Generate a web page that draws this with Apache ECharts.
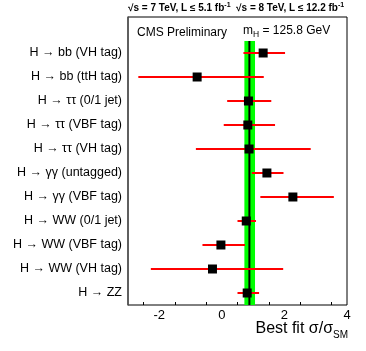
<!DOCTYPE html>
<html><head><meta charset="utf-8">
<script src="https://cdn.jsdelivr.net/npm/echarts@6/dist/echarts.min.js"></script>
<style>html,body{margin:0;padding:0;background:#fff}#c{width:366px;height:351px}</style>
</head><body><div id="c"></div>
<script>
// Categories top to bottom ('' = empty header row)
var categories = ['', 'H \u2192 bb (VH tag)', 'H \u2192 bb (ttH tag)', 'H \u2192 \u03c4\u03c4 (0/1 jet)', 'H \u2192 \u03c4\u03c4 (VBF tag)', 'H \u2192 \u03c4\u03c4 (VH tag)', 'H \u2192 \u03b3\u03b3 (untagged)', 'H \u2192 \u03b3\u03b3 (VBF tag)', 'H \u2192 WW (0/1 jet)', 'H \u2192 WW (VBF tag)', 'H \u2192 WW (VH tag)', 'H \u2192 ZZ'];
var bestFit = [1.32, -0.79, 0.85, 0.83, 0.87, 1.44, 2.27, 0.78, -0.03, -0.30, 0.81];
var errLow  = [0.69, -2.67, 0.17, 0.06, -0.83, 0.96, 1.23, 0.50, -0.62, -2.27, 0.50];
var errHigh = [2.02, 1.34, 1.58, 1.70, 2.84, 1.97, 3.58, 1.09, 0.74, 1.96, 1.19];
var combined = 0.88;
var combinedLow = 0.72;
var combinedHigh = 1.06;
var xTicks = [-3, 4];

var rows = categories.slice(1);
var FONT = 'Liberation Sans, Arial, sans-serif';

var chart = echarts.init(document.getElementById('c'));
chart.setOption({
  animation: false,
  title: {
    text: '{a|\u221as = 7 TeV, L \u2264 5.1 fb}{s|-1}{a|  \u221as = 8 TeV, L \u2264 12.2 fb}{s|-1}',
    left: 128, top: 2, padding: 0,
    textStyle: {
      rich: {
        a: {fontFamily: FONT, fontSize: 10, color: '#000'},
        s: {fontFamily: FONT, fontSize: 7, color: '#000', verticalAlign: 'bottom', padding: [0,0,5,0]}
      }
    }
  },
  grid: {left: 128, right: 19, top: 17, bottom: 46, containLabel: false, outerBoundsMode: 'none',
         show: true, borderColor: '#000', borderWidth: 1},
  xAxis: {
    type: 'value', min: xTicks[0], max: xTicks[1], interval: 1,
    axisLine: {lineStyle: {color: '#000', width: 1.5}},
    axisTick: {inside: true, length: 5, lineStyle: {color: '#000'}},
    minorTick: {show: true, splitNumber: 2, length: 3, lineStyle: {color: '#000'}},
    splitLine: {show: false},
    axisLabel: {
      fontFamily: FONT, fontSize: 13, color: '#000', margin: 4,
      formatter: function (v) { return (v % 2 === 0) ? String(v) : ''; }
    }
  },
  yAxis: {
    type: 'category', data: categories, inverse: true,
    axisLine: {onZero: false, lineStyle: {color: '#555', width: 1.5}},
    axisTick: {show: false},
    splitLine: {show: false},
    axisLabel: {fontFamily: FONT, fontSize: 12.5, color: '#000', margin: 6}
  },
  graphic: [
    {type: 'text', left: 137, top: 27, style: {text: 'CMS Preliminary', font: '12px ' + FONT, fill: '#000'}},
    {type: 'text', left: 243, top: 25, style: {
      text: '{a|m}{s|H}{a| = 125.8 GeV}',
      rich: {
        a: {fontFamily: FONT, fontSize: 12, color: '#000'},
        s: {fontFamily: FONT, fontSize: 8.5, color: '#000', verticalAlign: 'top', padding: [8,0,0,0]}
      }
    }},
    {type: 'text', right: 18, top: 321, style: {
      text: '{a|Best fit \u03c3/\u03c3}{s|SM}',
      rich: {
        a: {fontFamily: FONT, fontSize: 16, color: '#000'},
        s: {fontFamily: FONT, fontSize: 10, color: '#000', verticalAlign: 'top', padding: [12,0,0,0]}
      }
    }}
  ],
  series: [
    {
      type: 'custom', z: 1, silent: true,
      data: [[combinedLow, combinedHigh, combined]],
      encode: {x: [0, 1, 2]},
      renderItem: function (params, api) {
        var half = api.size([0, 1])[1] / 2;
        var yTop = api.coord([combined, 1])[1] - half;
        var yBot = api.coord([combined, categories.length - 1])[1] + half;
        var xl = api.coord([api.value(0), 1])[0];
        var xh = api.coord([api.value(1), 1])[0];
        var xc = api.coord([api.value(2), 1])[0];
        return {type: 'group', children: [
          {type: 'rect', shape: {x: xl, y: yTop, width: xh - xl, height: yBot - yTop}, style: {fill: '#00ff00'}},
          {type: 'line', shape: {x1: xc, y1: yTop, x2: xc, y2: yBot}, style: {stroke: '#000', lineWidth: 2}}
        ]};
      }
    },
    {
      type: 'custom', z: 2, silent: true,
      data: rows.map(function (c, i) { return [errLow[i], errHigh[i], c]; }),
      encode: {x: [0, 1], y: 2},
      renderItem: function (params, api) {
        var p1 = api.coord([api.value(0), api.value(2)]);
        var p2 = api.coord([api.value(1), api.value(2)]);
        return {type: 'line', shape: {x1: p1[0], y1: p1[1], x2: p2[0], y2: p2[1]}, style: {stroke: '#ff0000', lineWidth: 2}};
      }
    },
    {
      type: 'scatter', z: 3, symbol: 'rect', symbolSize: 9,
      itemStyle: {color: '#000', opacity: 1},
      data: rows.map(function (c, i) { return [bestFit[i], c]; })
    }
  ]
});
</script></body></html>
